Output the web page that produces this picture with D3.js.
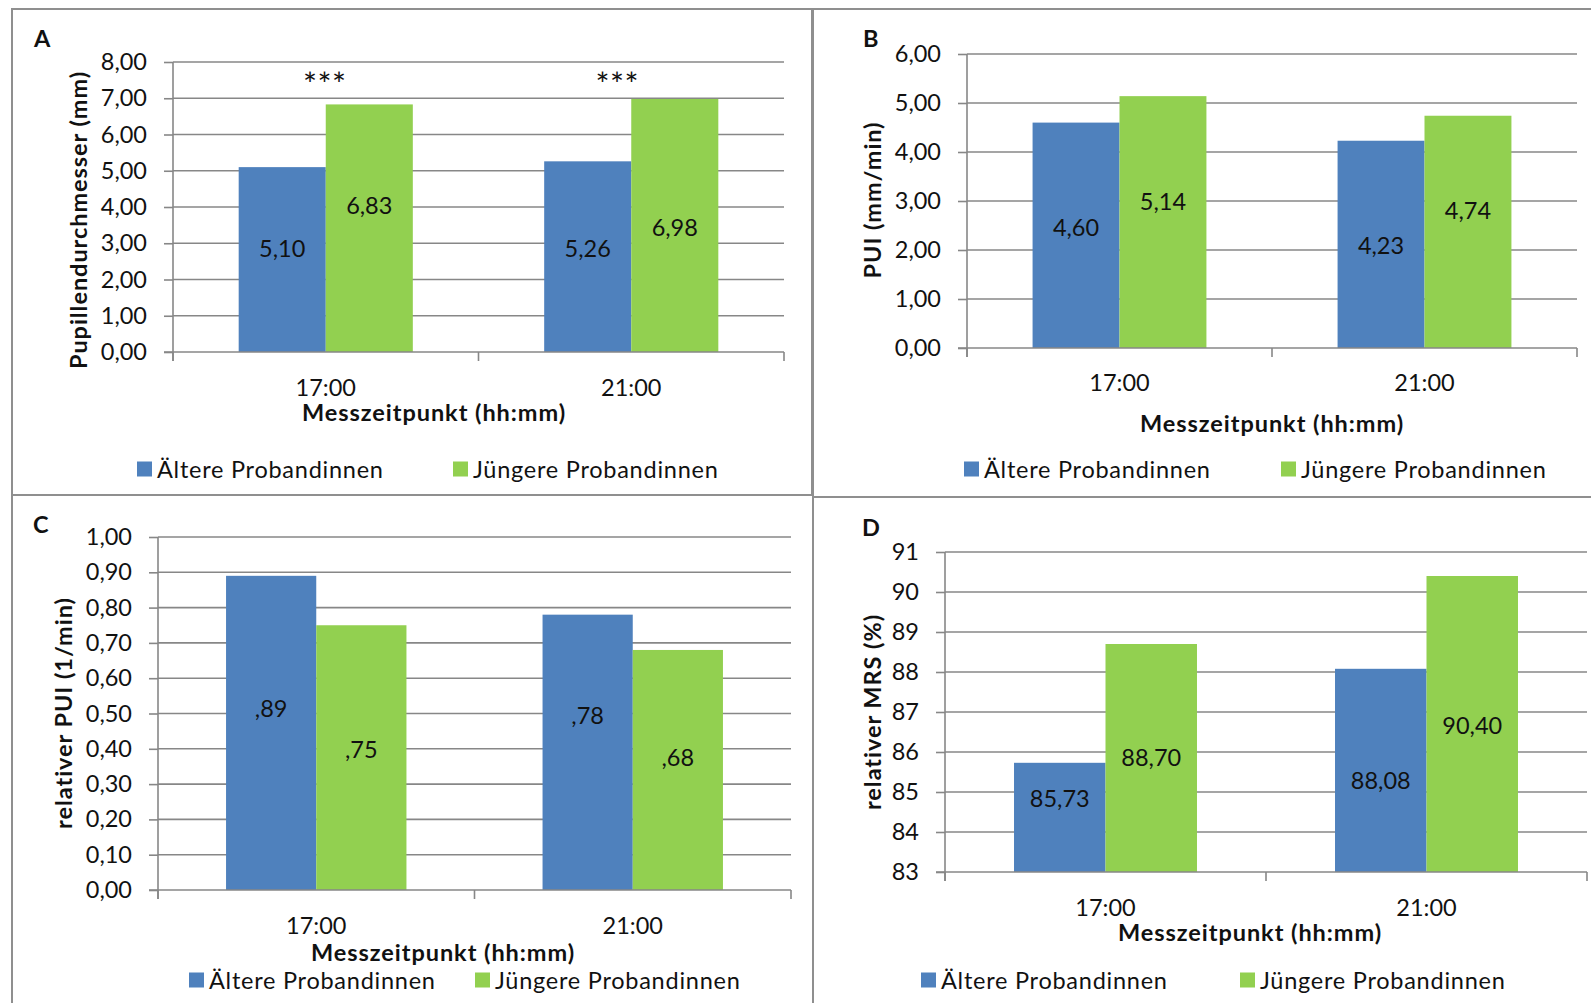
<!DOCTYPE html>
<html>
<head>
<meta charset="utf-8">
<script src="https://cdn.jsdelivr.net/npm/d3@7"></script>
<style>
  html, body { margin: 0; padding: 0; background: #fff; }
  svg { display: block; font-family: Lato, "Open Sans", sans-serif; }
</style>
</head>
<body>
<svg id="chart" width="1591" height="1003"></svg>
<script>
// ---------------- DATA ----------------
const categories = ["17:00", "21:00"];
const seriesNames = ["Ältere Probandinnen", "Jüngere Probandinnen"];

const pupilOlder   = [5.10, 5.26];
const pupilYounger = [6.83, 6.98];
const pupilSig     = ["***", "***"];
const pupilTicks   = [0, 1, 2, 3, 4, 5, 6, 7, 8];

const puiOlder   = [4.60, 4.23];
const puiYounger = [5.14, 4.74];
const puiTicks   = [0, 1, 2, 3, 4, 5, 6];

const relPuiOlder   = [0.89, 0.78];
const relPuiYounger = [0.75, 0.68];
const relPuiTicks   = [0, 0.1, 0.2, 0.3, 0.4, 0.5, 0.6, 0.7, 0.8, 0.9, 1.0];

const mrsOlder   = [85.73, 88.08];
const mrsYounger = [88.70, 90.40];
const mrsTicks   = [83, 84, 85, 86, 87, 88, 89, 90, 91];

const colors = ["#4F81BD", "#92D050"];

// ---------------- FORMATTERS ----------------
const fmt2 = v => d3.format(".2f")(v).replace(".", ",");
const fmt2NoLead = v => fmt2(v).replace(/^0,/, ",");
const fmtInt = v => d3.format("d")(v);

// ---------------- LAYOUT ----------------
const panels = [
  { letter: "A", series: [pupilOlder, pupilYounger], ticks: pupilTicks, domain: [0, 8],
    tickFmt: fmt2, labelFmt: fmt2, yTitle: "Pupillendurchmesser (mm)", sig: pupilSig,
    border: [12, 9, 800, 486],
    plot: { x0: 173, x1: 784, yTop: 62, yBot: 352 },
    letterPos: [34, 38], yTitlePos: [78, 220], xLabY: 387, xTitle: [434, 412],
    legendY: 469, legendX: [137, 453],
    sigY: 76, sigDx: [-1, -14],
    labelFrac: [[0.5625, 0.545], [0.594, 0.494]] },
  { letter: "B", series: [puiOlder, puiYounger], ticks: puiTicks, domain: [0, 6],
    tickFmt: fmt2, labelFmt: fmt2, yTitle: "PUI (mm/min)",
    border: [813, 9, 790, 488],
    plot: { x0: 967, x1: 1577, yTop: 54, yBot: 348 },
    letterPos: [863, 38], yTitlePos: [872, 200], xLabY: 382, xTitle: [1272, 423],
    legendY: 469, legendX: [964, 1281],
    labelFrac: [[0.537, 0.497], [0.584, 0.594]] },
  { letter: "C", series: [relPuiOlder, relPuiYounger], ticks: relPuiTicks, domain: [0, 1],
    tickFmt: fmt2, labelFmt: fmt2NoLead, yTitle: "relativer PUI (1/min)",
    border: [12, 495, 801, 520],
    plot: { x0: 158, x1: 791, yTop: 537, yBot: 890 },
    letterPos: [33, 524], yTitlePos: [63, 713], xLabY: 925, xTitle: [443, 952],
    legendY: 980, legendX: [189, 475],
    labelFrac: [[0.579, 0.636], [0.533, 0.554]] },
  { letter: "D", series: [mrsOlder, mrsYounger], ticks: mrsTicks, domain: [83, 91],
    tickFmt: fmtInt, labelFmt: fmt2, yTitle: "relativer MRS (%)",
    border: [813, 497, 790, 520],
    plot: { x0: 945, x1: 1587, yTop: 552, yBot: 872 },
    letterPos: [862, 527], yTitlePos: [872, 712], xLabY: 907, xTitle: [1250, 932],
    legendY: 980, legendX: [921, 1240],
    labelFrac: [[0.678, 0.453], [0.504, 0.497]] }
];

const FS = 23.5;          // regular text size
const FSB = 23.5;         // bold titles
const LS = 0.75;          // letter spacing for words
const LSB = 0.95;         // letter spacing for bold titles
const gridColor = "#878787";
const borderColor = "#8f8f8f";
const barFrac = 0.285;    // bar width relative to category band

const svg = d3.select("#chart");
svg.append("rect").attr("width", 1591).attr("height", 1003).attr("fill", "#fff");

panels.forEach(p => {
  const g = svg.append("g");
  const [bx, by, bw, bh] = p.border;
  g.append("rect").attr("x", bx).attr("y", by).attr("width", bw).attr("height", bh)
    .attr("fill", "none").attr("stroke", borderColor).attr("stroke-width", 2);

  const x = d3.scaleBand().domain(categories).range([p.plot.x0, p.plot.x1]).padding(0);
  const y = d3.scaleLinear().domain(p.domain).range([p.plot.yBot, p.plot.yTop]);

  // Gridlines
  g.append("g").selectAll("line").data(p.ticks.filter(t => t !== p.domain[0])).join("line")
    .attr("x1", p.plot.x0).attr("x2", p.plot.x1)
    .attr("y1", d => y(d)).attr("y2", d => y(d))
    .attr("stroke", gridColor).attr("stroke-width", 1.6);

  // Y axis
  const yAxis = d3.axisLeft(y).tickValues(p.ticks).tickFormat(p.tickFmt)
    .tickSize(9).tickPadding(17);
  const ya = g.append("g").attr("transform", `translate(${p.plot.x0},0)`).call(yAxis);
  ya.select(".domain").attr("stroke", gridColor).attr("stroke-width", 1.6)
    .attr("d", `M0,${p.plot.yTop}V${p.plot.yBot + 9}`);
  ya.selectAll(".tick line").attr("stroke", gridColor).attr("stroke-width", 1.6);
  ya.selectAll(".tick text").attr("font-size", FS).attr("fill", "#111")
    .attr("font-family", "Lato, sans-serif");

  // Bars
  categories.forEach((c, ci) => {
    const cx = x(c) + x.bandwidth() / 2;
    const half = x.bandwidth() * barFrac;
    const inner = d3.scaleBand().domain(d3.range(p.series.length)).range([cx - half, cx + half]);
    p.series.forEach((s, si) => {
      const v = s[ci];
      g.append("rect")
        .attr("x", inner(si)).attr("width", inner.bandwidth())
        .attr("y", y(v)).attr("height", y(p.domain[0]) - y(v))
        .attr("fill", colors[si]);
      const lv = p.domain[0] + (v - p.domain[0]) * p.labelFrac[si][ci];
      g.append("text")
        .attr("x", inner(si) + inner.bandwidth() / 2).attr("y", y(lv))
        .attr("text-anchor", "middle").attr("dominant-baseline", "central")
        .attr("font-size", FS).attr("fill", "#111")
        .text(p.labelFmt(v));
    });
    if (p.sig) {
      g.append("text").attr("x", cx + p.sigDx[ci]).attr("y", p.sigY)
        .attr("text-anchor", "middle").attr("dominant-baseline", "central")
        .attr("font-size", 33).attr("letter-spacing", 0.5).attr("fill", "#111")
        .attr("dy", 7).text(p.sig[ci]);
    }
  });

  // X axis
  const xa = g.append("g").attr("transform", `translate(0,${p.plot.yBot})`);
  xa.append("line").attr("x1", p.plot.x0 - 9).attr("x2", p.plot.x1)
    .attr("stroke", gridColor).attr("stroke-width", 1.6);
  const bounds = [p.plot.x0, ...categories.slice(1).map(c => x(c)), p.plot.x1];
  xa.selectAll("line.tk").data(bounds).join("line").attr("class", "tk")
    .attr("x1", d => d).attr("x2", d => d).attr("y1", 0).attr("y2", 9)
    .attr("stroke", gridColor).attr("stroke-width", 1.6);
  categories.forEach(c => {
    g.append("text").attr("x", x(c) + x.bandwidth() / 2).attr("y", p.xLabY)
      .attr("text-anchor", "middle").attr("dominant-baseline", "central")
      .attr("font-size", FS).attr("fill", "#111").text(c);
  });

  // Axis titles
  g.append("text").attr("x", p.xTitle[0]).attr("y", p.xTitle[1])
    .attr("text-anchor", "middle").attr("dominant-baseline", "central")
    .attr("font-size", FSB).attr("font-weight", "bold").attr("letter-spacing", LSB)
    .attr("fill", "#111")
    .text("Messzeitpunkt (hh:mm)");
  g.append("text")
    .attr("transform", `translate(${p.yTitlePos[0]},${p.yTitlePos[1]}) rotate(-90)`)
    .attr("text-anchor", "middle").attr("dominant-baseline", "central")
    .attr("font-size", FSB).attr("font-weight", "bold").attr("letter-spacing", LSB)
    .attr("fill", "#111")
    .text(p.yTitle);

  // Panel letter
  g.append("text").attr("x", p.letterPos[0]).attr("y", p.letterPos[1])
    .attr("dominant-baseline", "central")
    .attr("font-size", FSB).attr("font-weight", "bold").attr("fill", "#111")
    .text(p.letter);

  // Legend
  seriesNames.forEach((name, si) => {
    const lx = p.legendX[si];
    g.append("rect").attr("x", lx).attr("y", p.legendY - 7.5).attr("width", 15).attr("height", 15)
      .attr("fill", colors[si]);
    g.append("text").attr("x", lx + 20).attr("y", p.legendY)
      .attr("dominant-baseline", "central")
      .attr("font-size", FS).attr("letter-spacing", LS).attr("fill", "#111").text(name);
  });
});
</script>
</body>
</html>
